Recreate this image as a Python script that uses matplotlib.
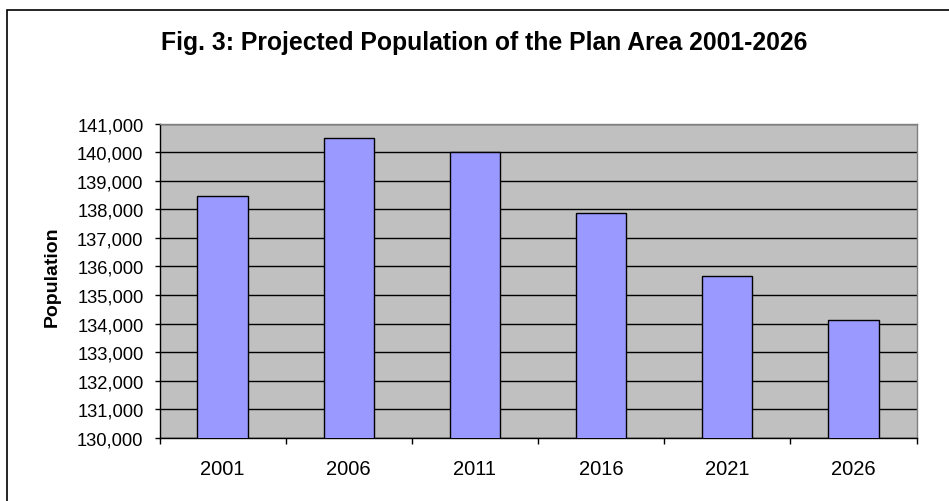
import matplotlib
matplotlib.use("Agg")
import matplotlib.pyplot as plt
from matplotlib.patches import Rectangle
from matplotlib.ticker import FuncFormatter, MultipleLocator
import numpy as np

YEARS = ["2001", "2006", "2011", "2016", "2021", "2026"]
POPULATION = [138450, 140480, 139990, 137870, 135680, 134140]
TITLE = "Fig. 3: Projected Population of the Plan Area 2001-2026"
YLABEL = "Population"

plt.rcParams["font.family"] = ["Liberation Sans", "DejaVu Sans"]

W, H = 949, 502
fig = plt.figure(figsize=(W / 100, H / 100), dpi=100)
fig.patch.set_facecolor("white")

# outer chart border (runs off the right and bottom of the image)
fig.patches.append(Rectangle((7 / W, -0.05), 1.2, 1 - 11 / H + 0.05,
                             transform=fig.transFigure, fill=False,
                             edgecolor="black", linewidth=1.2))

left, right, top, bottom = 159.5, 916.5, 124.5, 439
ax = fig.add_axes([left / W, 1 - bottom / H, (right - left) / W, (bottom - top) / H])
ax.set_facecolor("#c0c0c0")

x = np.arange(len(YEARS))
ax.bar(x, POPULATION, width=0.4, color="#9999ff", edgecolor="black", linewidth=1.0, zorder=3)

ax.set_xlim(-0.5, len(YEARS) - 0.5)
ax.set_ylim(130000, 141000)
ax.yaxis.set_major_locator(MultipleLocator(1000))
ax.yaxis.set_major_formatter(FuncFormatter(lambda v, p: f"{v:,.0f}"))
ax.grid(axis="y", color="black", linewidth=1.0, zorder=1)

ax.set_xticks(x, YEARS)
ax.set_xticks(np.arange(len(YEARS) + 1) - 0.5, minor=True)
ax.tick_params(axis="x", which="major", length=0, pad=15, labelsize=14.5)
ax.tick_params(axis="x", which="minor", length=4.5, width=1, direction="out")
ax.tick_params(axis="y", length=3.6, width=1, direction="out", pad=8, labelsize=13.2)

for side in ["left", "bottom"]:
    ax.spines[side].set_color("black")
    ax.spines[side].set_linewidth(1.0)
for side in ["top", "right"]:
    ax.spines[side].set_color("#808080")
    ax.spines[side].set_linewidth(1.0)

fig.text(484 / W, 1 - 50 / H, TITLE, ha="center", va="baseline", fontsize=17.8, fontweight="bold")
fig.text(52 / W, 1 - 277 / H, YLABEL, ha="center", va="center", rotation=90,
         fontsize=14, fontweight="bold")

fig.savefig("out.png", dpi=100)
